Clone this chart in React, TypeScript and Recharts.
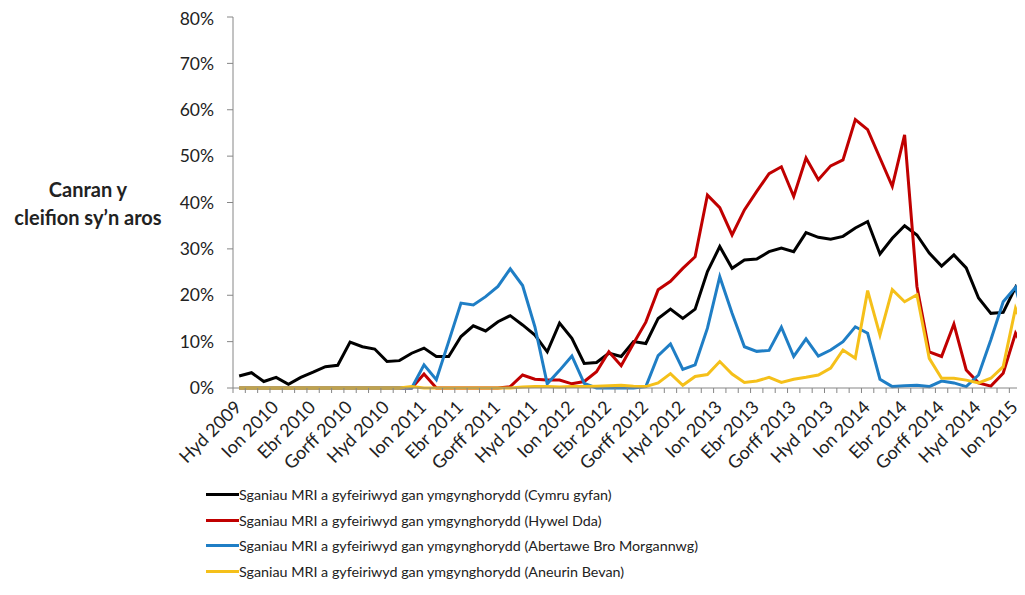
import { LineChart, Line, XAxis, YAxis } from 'recharts';

const months = [
  'Hyd 2009', 'Tach 2009', 'Rhag 2009',
  'Ion 2010', 'Chwef 2010', 'Maw 2010', 'Ebr 2010', 'Mai 2010', 'Meh 2010',
  'Gorff 2010', 'Awst 2010', 'Medi 2010', 'Hyd 2010', 'Tach 2010', 'Rhag 2010',
  'Ion 2011', 'Chwef 2011', 'Maw 2011', 'Ebr 2011', 'Mai 2011', 'Meh 2011',
  'Gorff 2011', 'Awst 2011', 'Medi 2011', 'Hyd 2011', 'Tach 2011', 'Rhag 2011',
  'Ion 2012', 'Chwef 2012', 'Maw 2012', 'Ebr 2012', 'Mai 2012', 'Meh 2012',
  'Gorff 2012', 'Awst 2012', 'Medi 2012', 'Hyd 2012', 'Tach 2012', 'Rhag 2012',
  'Ion 2013', 'Chwef 2013', 'Maw 2013', 'Ebr 2013', 'Mai 2013', 'Meh 2013',
  'Gorff 2013', 'Awst 2013', 'Medi 2013', 'Hyd 2013', 'Tach 2013', 'Rhag 2013',
  'Ion 2014', 'Chwef 2014', 'Maw 2014', 'Ebr 2014', 'Mai 2014', 'Meh 2014',
  'Gorff 2014', 'Awst 2014', 'Medi 2014', 'Hyd 2014', 'Tach 2014', 'Rhag 2014',
  'Ion 2015', 'Chwef 2015',
];

// percentages, one per month
const cymruGyfan = [
  2.6, 3.3, 1.4, 2.3, 0.8, 2.3, 3.4, 4.6, 4.9, 9.9, 8.9, 8.4, 5.7, 5.9, 7.5, 8.6,
  6.8, 6.8, 11.1, 13.4, 12.3, 14.3, 15.6, 13.6, 11.4, 7.8, 14.0, 10.7, 5.3, 5.5, 7.5, 6.8,
  10.0, 9.6, 15.0, 17.0, 15.0, 17.0, 25.1, 30.5, 25.8, 27.6, 27.8, 29.4, 30.2, 29.4, 33.5, 32.5,
  32.1, 32.7, 34.5, 35.9, 28.9, 32.3, 35.0, 33.0, 29.1, 26.3, 28.7, 25.9, 19.4, 16.1, 16.3, 21.7,
  15.0,
];
const hywelDda = [
  0, 0, 0, 0, 0, 0, 0, 0, 0, 0, 0, 0, 0, 0, 0, 3.0,
  0, 0, 0, 0, 0, 0, 0.3, 2.8, 1.9, 1.7, 1.7, 0.9, 1.4, 3.5, 7.8, 4.8,
  9.6, 14.2, 21.2, 23.0, 25.8, 28.3, 41.6, 38.9, 33.0, 38.4, 42.4, 46.2, 47.7, 41.3, 49.6, 44.9,
  47.9, 49.2, 57.9, 55.7, 49.6, 43.5, 54.6, 21.9, 7.8, 6.8, 13.8, 3.9, 1.1, 0.4, 3.2, 11.8,
  7.0,
];
const abertawe = [
  0, 0, 0, 0, 0, 0, 0, 0, 0, 0, 0, 0, 0, 0, 0, 5.0,
  1.8, 10.0, 18.3, 17.9, 19.7, 21.9, 25.7, 22.1, 13.2, 0.9, 3.8, 6.9, 1.0, 0, 0, 0,
  0, 0.3, 7.0, 9.5, 4.0, 5.0, 12.9, 24.0, 16.1, 8.9, 7.9, 8.1, 13.1, 6.8, 10.6, 6.9,
  8.2, 10.0, 13.2, 11.8, 1.9, 0.3, 0.5, 0.6, 0.3, 1.5, 1.1, 0.3, 2.8, 10.4, 18.6, 21.7,
  12.0,
];
const aneurinBevan = [
  0, 0, 0, 0, 0, 0, 0, 0, 0, 0, 0, 0, 0, 0, 0.3, 0,
  0, 0, 0, 0, 0, 0, 0, 0.2, 0.3, 0.3, 0.2, 0.3, 0.3, 0.4, 0.5, 0.6,
  0.4, 0.3, 1.1, 3.1, 0.6, 2.5, 2.9, 5.7, 3.0, 1.2, 1.5, 2.3, 1.2, 1.9, 2.3, 2.8,
  4.3, 8.2, 6.4, 21.0, 11.4, 21.2, 18.6, 20.1, 6.4, 2.1, 2.1, 1.7, 1.1, 2.1, 4.6, 17.2,
  11.0,
];

const yTicks = [0, 10, 20, 30, 40, 50, 60, 70, 80];

const SERIES = [
  { key: 'cymru', name: 'Sganiau MRI a gyfeiriwyd gan ymgynghorydd (Cymru gyfan)', color: '#000000', values: cymruGyfan },
  { key: 'hywel', name: 'Sganiau MRI a gyfeiriwyd gan ymgynghorydd (Hywel Dda)', color: '#C00000', values: hywelDda },
  { key: 'abm', name: 'Sganiau MRI a gyfeiriwyd gan ymgynghorydd (Abertawe Bro Morgannwg)', color: '#1F7EC5', values: abertawe },
  { key: 'aneurin', name: 'Sganiau MRI a gyfeiriwyd gan ymgynghorydd (Aneurin Bevan)', color: '#F5C01A', values: aneurinBevan },
];

const data = months.map((month, i) => {
  const row: Record<string, string | number> = { month };
  SERIES.forEach((s) => { row[s.key] = s.values[i]; });
  return row;
});

const FONT = 'Lato, "Open Sans", sans-serif';
const AXIS = '#868686';
const TEXT = '#222222';

const MonthTick = ({ x, y, payload, index }: any) => {
  const half = payload?.offset ?? 6.17;
  const axisY = y - 5;
  const ax = x - 1;
  const ay = axisY + 16;
  return (
    <g>
      <line x1={x - half} x2={x - half} y1={axisY} y2={axisY + 5} stroke={AXIS} strokeWidth={1} />
      {index % 3 === 0 && (
        <text
          x={ax}
          y={ay}
          dy="0.35em"
          textAnchor="end"
          transform={`rotate(-45, ${ax}, ${ay})`}
          fill={TEXT}
          fontSize={18}
          fontFamily={FONT}
        >
          {payload.value}
        </text>
      )}
    </g>
  );
};

const AxisTitle = () => (
  <text textAnchor="middle" fill={TEXT} fontSize={20} fontWeight={700} fontFamily={FONT}>
    <tspan x={80} y={189}>Canran y</tspan>
    <tspan x={80} y={217}>cleifion sy’n aros</tspan>
  </text>
);

export default function App() {
  return (
    <div style={{ position: 'relative', width: 1017, height: 579, overflow: 'hidden', fontFamily: FONT }}>
      <LineChart width={1040} height={575} data={data} margin={{ top: 9, right: 14, bottom: 105, left: 165 }}>
        <XAxis
          dataKey="month"
          scale="band"
          interval={0}
          tickSize={5}
          tickMargin={0}
          tickLine={false}
          tick={<MonthTick />}
          axisLine={{ stroke: AXIS }}
          height={90}
        />
        <YAxis
          domain={[0, 80]}
          ticks={yTicks}
          tickFormatter={(v) => `${v}%`}
          width={60}
          tickSize={6}
          tickMargin={13}
          axisLine={{ stroke: AXIS }}
          tickLine={{ stroke: AXIS }}
          tick={{ fill: TEXT, fontSize: 17.5, fontFamily: FONT }}
          label={<AxisTitle />}
        />
        {SERIES.map((s) => (
          <Line
            key={s.key}
            dataKey={s.key}
            name={s.name}
            stroke={s.color}
            strokeWidth={3}
            dot={false}
            strokeLinejoin="miter"
            isAnimationActive={false}
          />
        ))}
      </LineChart>
      <div style={{ position: 'absolute', left: 198, top: 474, fontSize: 14.3, color: TEXT }}>
        {SERIES.map((s) => (
          <div key={s.key} style={{ height: 25.5, display: 'flex', alignItems: 'center' }}>
            <div style={{ width: 33, height: 3, background: s.color }} />
            <span style={{ whiteSpace: 'nowrap' }}>{s.name}</span>
          </div>
        ))}
      </div>
    </div>
  );
}
